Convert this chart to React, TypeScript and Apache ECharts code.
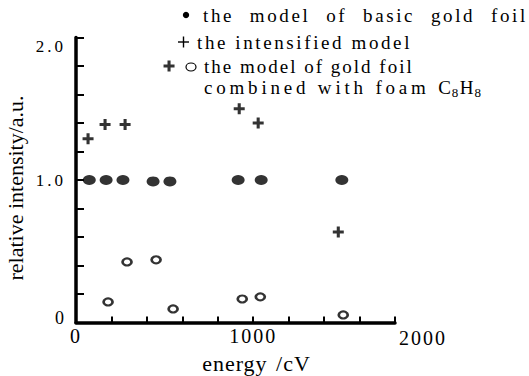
import React, { useEffect, useRef } from 'react';
import * as echarts from 'echarts';

// ---- data ----
const energyBasic = [75, 170, 265, 435, 530, 915, 1045, 1500];
const intensityBasic = [1.0, 1.0, 1.0, 0.99, 0.99, 1.0, 1.0, 1.0];

const energyIntensified = [68, 164, 277, 525, 921, 1028, 1480];
const intensityIntensified = [1.29, 1.39, 1.39, 1.8, 1.5, 1.4, 0.635];

const energyFoam = [181, 288, 452, 548, 938, 1040, 1508];
const intensityFoam = [0.144, 0.425, 0.44, 0.095, 0.165, 0.18, 0.053];

const seriesNames = [
  'the model of basic gold foil',
  'the intensified model',
  'the model of gold foil combined with foam C8H8',
];
const legendLines = ['the model of basic gold foil', 'the intensified model', 'the model of gold foil'];
const legendLine4 = ['combined with foam', 'C', '8', 'H', '8'];

const xLabelValues = [0, 1000];
const xOuterLabelValues = [2000];
const yLabelValues = [0, 1, 2];
const yLabelTexts = ['0', '1.0', '2.0'];

const xTitle = 'energy /cV';
const yTitle = 'relative intensity/a.u.';

const zip = (xs: number[], ys: number[]) => xs.map((x, i) => [x, ys[i]]);

const SERIF = 'Liberation Serif';
const PLUS = 'path://M3.6,0 H6.4 V3.6 H10 V6.4 H6.4 V10 H3.6 V6.4 H0 V3.6 H3.6 Z';
const LEG_FS = 19;
const SUB_FS = 13;

// letter / word spacing (px) to imitate the wide typeface of the original
const LEG_LS = [2.6, 2.6, 2, 3.8];
const LEG_WS = [8.5, 0, 0, 0];

const measure = (text: string, size: number) => {
  const ctx = document.createElement('canvas').getContext('2d');
  if (!ctx) return text.length * size * 0.5;
  ctx.font = `${size}px "${SERIF}"`;
  return ctx.measureText(text).width;
};

export default function App() {
  const ref = useRef<HTMLDivElement>(null);
  useEffect(() => {
    if (!ref.current) return;
    const chart = echarts.init(ref.current, undefined, { renderer: 'svg' });
    const yRichKeys = ['z', 'o', 't'];
    const txt = (text: string, x: number, y: number, size = LEG_FS) => ({
      type: 'text',
      x,
      y,
      style: { text, fontFamily: SERIF, fontSize: size, lineHeight: size, fill: '#000', verticalAlign: 'middle' },
    });

    // legend line 4 pieces (C8H8 with subscripts), laid out left to right
    const head = legendLine4[0];
    const x4 = 204;
    const xC = x4 + measure(head + ' ', LEG_FS) + (head.length + 1) * LEG_LS[3];
    const xSub1 = xC + measure(legendLine4[1], LEG_FS) + 0.8;
    const xH = xSub1 + measure(legendLine4[2], SUB_FS) + 1.5;
    const xSub2 = xH + measure(legendLine4[3], LEG_FS) + 1.2;

    chart.setOption({
      animation: false,
      backgroundColor: '#fff',
      grid: [
        { left: 76, top: 37.5, width: 319, bottom: 53.5, outerBoundsMode: 'none' },
        { left: 76, top: 37.5, width: 347, bottom: 53.5, outerBoundsMode: 'none' },
      ],
      xAxis: [
        {
          type: 'value',
          gridIndex: 0,
          min: 0,
          max: 1800,
          interval: 200,
          axisLine: { show: true, lineStyle: { color: '#000', width: 3.5 } },
          axisTick: { show: true, inside: true, length: 6, lineStyle: { color: '#000', width: 2 } },
          splitLine: { show: false },
          axisLabel: {
            formatter: (v: number) => (xLabelValues.includes(v) ? String(v) : ''),
            fontFamily: SERIF,
            fontSize: 20,
            color: '#000',
            margin: 3,
          },
        },
        {
          type: 'value',
          gridIndex: 1,
          min: 0,
          max: 2000,
          interval: 1000,
          axisLine: { show: false },
          axisTick: { show: false },
          splitLine: { show: false },
          axisLabel: {
            formatter: (v: number) => (xOuterLabelValues.includes(v) ? String(v) : ''),
            fontFamily: SERIF,
            fontSize: 20,
            color: '#000',
            margin: 5,
          },
          name: xTitle,
          nameLocation: 'middle',
          nameGap: 30,
          nameTextStyle: { fontFamily: SERIF, fontSize: 22, color: '#000', padding: [0, 0, 0, 14] },
        },
      ],
      yAxis: [
        {
          type: 'value',
          gridIndex: 0,
          min: 0,
          max: 2,
          interval: 0.2,
          axisLine: { show: true, lineStyle: { color: '#000', width: 3.5 } },
          axisTick: { show: true, inside: true, length: 8, lineStyle: { color: '#000', width: 2 } },
          splitLine: { show: false },
          axisLabel: {
            formatter: (v: number) => {
              const i = yLabelValues.findIndex((t) => Math.abs(t - v) < 1e-6);
              return i < 0 ? '' : `{${yRichKeys[i]}|${yLabelTexts[i]}}`;
            },
            margin: 10,
            rich: {
              z: { fontFamily: SERIF, fontSize: 18, color: '#000', padding: [0, 0, 10, 0] },
              o: { fontFamily: SERIF, fontSize: 17, color: '#000' },
              t: { fontFamily: SERIF, fontSize: 17, color: '#000', padding: [18, 0, 0, 0] },
            },
          },
          name: yTitle,
          nameLocation: 'middle',
          nameGap: 50,
          nameRotate: 90,
          nameTextStyle: { fontFamily: SERIF, fontSize: 22, color: '#000', padding: [0, 16, 0, 0] },
        },
        { type: 'value', gridIndex: 1, min: 0, max: 2, show: false },
      ],
      series: [
        {
          name: seriesNames[0],
          type: 'scatter',
          xAxisIndex: 0,
          yAxisIndex: 0,
          symbol: 'circle',
          symbolSize: [13, 10],
          itemStyle: { color: '#000' },
          data: zip(energyBasic, intensityBasic),
        },
        {
          name: seriesNames[1],
          type: 'scatter',
          xAxisIndex: 0,
          yAxisIndex: 0,
          symbol: PLUS,
          symbolSize: 11,
          itemStyle: { color: '#000' },
          data: zip(energyIntensified, intensityIntensified),
        },
        {
          name: seriesNames[2],
          type: 'scatter',
          xAxisIndex: 0,
          yAxisIndex: 0,
          symbol: 'circle',
          symbolSize: [9, 7],
          itemStyle: { color: '#fff', borderColor: '#000', borderWidth: 2.4 },
          data: zip(energyFoam, intensityFoam),
        },
      ],
      graphic: [
        { type: 'circle', shape: { cx: 186, cy: 15, r: 3.2 }, style: { fill: '#000' } },
        txt(legendLines[0], 203, 15),
        { type: 'line', shape: { x1: 178, y1: 42, x2: 189, y2: 42 }, style: { stroke: '#000', lineWidth: 1.4 } },
        { type: 'line', shape: { x1: 183.5, y1: 36.5, x2: 183.5, y2: 47.5 }, style: { stroke: '#000', lineWidth: 1.4 } },
        txt(legendLines[1], 197, 42),
        { type: 'ellipse', shape: { cx: 191, cy: 67, rx: 5, ry: 4 }, style: { fill: 'none', stroke: '#000', lineWidth: 1.2 } },
        txt(legendLines[2], 204, 66),
        txt(legendLine4[0], x4, 87),
        txt(legendLine4[1], xC, 87),
        txt(legendLine4[2], xSub1, 92, SUB_FS),
        txt(legendLine4[3], xH, 87),
        txt(legendLine4[4], xSub2, 92, SUB_FS),
      ],
    });

    // imitate the wide, letter-spaced typeface of the original figure
    const spacing: Record<string, [number, number]> = {
      [legendLines[0]]: [LEG_LS[0], LEG_WS[0]],
      [legendLines[1]]: [LEG_LS[1], LEG_WS[1]],
      [legendLines[2]]: [LEG_LS[2], LEG_WS[2]],
      [legendLine4[0]]: [LEG_LS[3], LEG_WS[3]],
      '0': [2, 0],
      '1000': [2, 0],
      '2000': [2, 0],
      '1.0': [3, 0],
      '2.0': [3, 0],
      [xTitle]: [1, 2],
    };
    ref.current.querySelectorAll('text').forEach((t) => {
      const sp = spacing[(t.textContent || '').trim()];
      if (sp) {
        (t as SVGTextElement).style.letterSpacing = `${sp[0]}px`;
        (t as SVGTextElement).style.wordSpacing = `${sp[1]}px`;
      }
    });
    return () => chart.dispose();
  }, []);
  return <div ref={ref} style={{ position: 'fixed', left: 0, top: 0, width: 529, height: 376, background: '#fff' }} />;
}
